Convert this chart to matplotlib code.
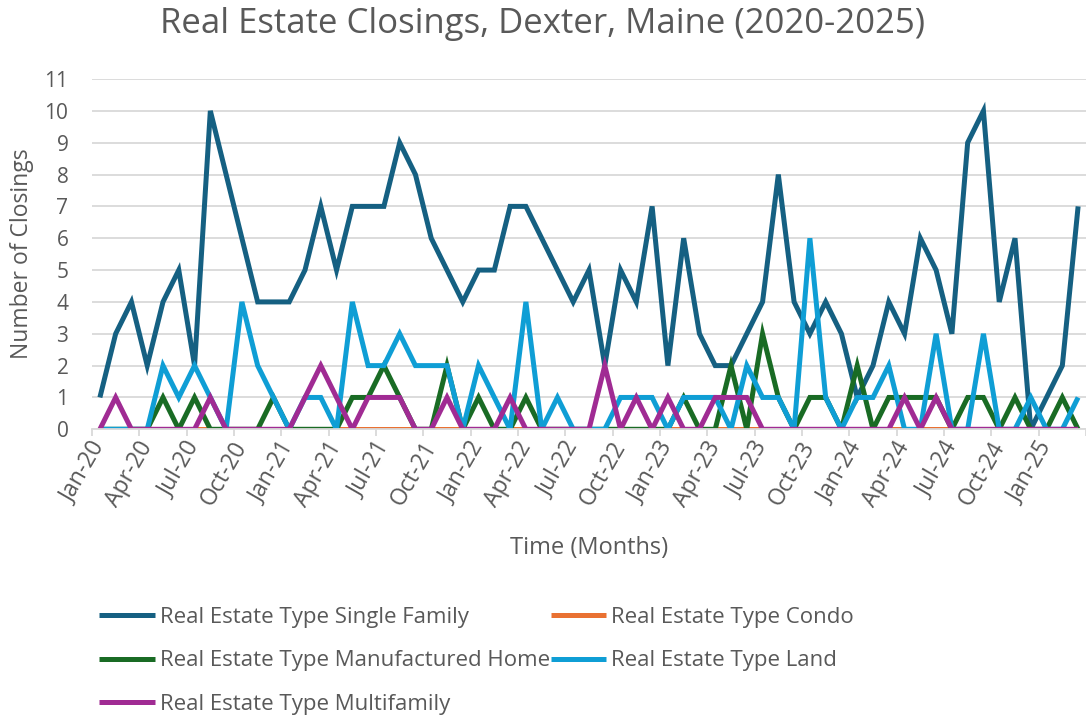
import matplotlib
matplotlib.use("Agg")
import matplotlib.pyplot as plt
import pandas as pd
import numpy as np

# monthly closings, Jan-20 .. Mar-25
months = pd.date_range("2020-01-01", "2025-03-01", freq="MS").strftime("%b-%y").tolist()

single_family = [1, 3, 4, 2, 4, 5, 2, 10, 8, 6, 4, 4, 4, 5, 7, 5, 7, 7, 7, 9, 8,
                 6, 5, 4, 5, 5, 7, 7, 6, 5, 4, 5, 2, 5, 4, 7, 2, 6, 3, 2, 2, 3,
                 4, 8, 4, 3, 4, 3, 1, 2, 4, 3, 6, 5, 3, 9, 10, 4, 6, 0, 1, 2, 7]
condo = [0] * 63
manufactured = [0, 0, 0, 0, 1, 0, 1, 0, 0, 0, 0, 1, 0, 0, 0, 0, 1, 1, 2, 1, 0,
                0, 2, 0, 1, 0, 0, 1, 0, 0, 0, 0, 0, 0, 0, 0, 0, 1, 0, 0, 2, 0,
                3, 1, 0, 1, 1, 0, 2, 0, 1, 1, 1, 1, 0, 1, 1, 0, 1, 0, 0, 1, 0]
land = [0, 0, 0, 0, 2, 1, 2, 1, 0, 4, 2, 1, 0, 1, 1, 0, 4, 2, 2, 3, 2,
        2, 2, 0, 2, 1, 0, 4, 0, 1, 0, 0, 0, 1, 1, 1, 0, 1, 1, 1, 0, 2,
        1, 1, 0, 6, 1, 0, 1, 1, 2, 0, 0, 3, 0, 0, 3, 0, 0, 1, 0, 0, 1]
multifamily = [0, 1, 0, 0, 0, 0, 0, 1, 0, 0, 0, 0, 0, 1, 2, 1, 0, 1, 1, 1, 0,
               0, 1, 0, 0, 0, 1, 0, 0, 0, 0, 0, 2, 0, 1, 0, 1, 0, 0, 1, 1, 1,
               0, 0, 0, 0, 0, 0, 0, 0, 0, 1, 0, 1, 0, 0, 0, 0, 0, 0, 0, 0, 0]

series = [
    ("Real Estate Type Single Family", single_family, "#156082"),
    ("Real Estate Type Condo", condo, "#E97132"),
    ("Real Estate Type Manufactured Home", manufactured, "#196B24"),
    ("Real Estate Type Land", land, "#0F9ED5"),
    ("Real Estate Type Multifamily", multifamily, "#A02B93"),
]

plt.rcParams['font.family'] = ['Open Sans', 'DejaVu Sans']
txt = "#595959"
grid = "#D9D9D9"

W, H = 1086, 719
fig = plt.figure(figsize=(W / 100, H / 100), dpi=100)
ax = fig.add_axes([92 / W, 1 - 429.3 / H, 1 - 92 / W, (429.3 - 79) / H])

x = np.arange(len(months))
handles = {}
for name, vals, col in series:
    ln, = ax.plot(x, vals, color=col, lw=3.6, solid_joinstyle="miter",
                  solid_capstyle="butt", label=name)
    handles[name] = ln

ax.set_xlim(-0.5, 62.3)
ax.set_ylim(0, 11)
ax.set_yticks(range(0, 12))
ax.yaxis.grid(True, color=grid, lw=1.3)
ax.set_axisbelow(True)
for s in ["top", "right", "left"]:
    ax.spines[s].set_visible(False)
ax.spines["bottom"].set_color(grid)
ax.spines["bottom"].set_linewidth(1.3)
ax.tick_params(axis="y", length=0, pad=17, labelsize=15, labelcolor=txt)

# tick marks on category boundaries, labels on category centres
ax.set_xticks(np.arange(-0.5, 63, 3))
ax.set_xticklabels([])
ax.tick_params(axis="x", which="major", length=5, width=1.3, color=grid)
ax.set_xticks(x[::3], minor=True)
ax.set_xticklabels(months[::3], minor=True)
ax.tick_params(axis="x", which="minor", length=0, pad=10, labelsize=16.5, labelcolor=txt)
plt.setp(ax.get_xticklabels(minor=True), rotation=60, ha="right", va="center",
         rotation_mode="anchor")

ax.set_xlabel("Time (Months)", fontsize=17, color=txt, va="center")
ax.xaxis.set_label_coords(0.5, (429.3 - 548) / 350.3)
ax.set_ylabel("Number of Closings", fontsize=16.5, color=txt, va="center")
ax.yaxis.set_label_coords((22 - 92) / 994, 0.5)
fig.suptitle("Real Estate Closings, Dexter, Maine (2020-2025)", fontsize=25,
             color=txt, y=0.99)

order = ["Real Estate Type Single Family", "Real Estate Type Manufactured Home",
         "Real Estate Type Multifamily", "Real Estate Type Condo",
         "Real Estate Type Land"]
leg = fig.legend([handles[n] for n in order], order, ncol=2, frameon=False,
                 loc="upper left", bbox_to_anchor=(88 / W, 1 - 596 / H),
                 fontsize=16, handlelength=2.5, handletextpad=0.22,
                 columnspacing=0.05, labelspacing=1.0, borderpad=0)
for t in leg.get_texts():
    t.set_color(txt)

fig.savefig("out.png", dpi=100)
